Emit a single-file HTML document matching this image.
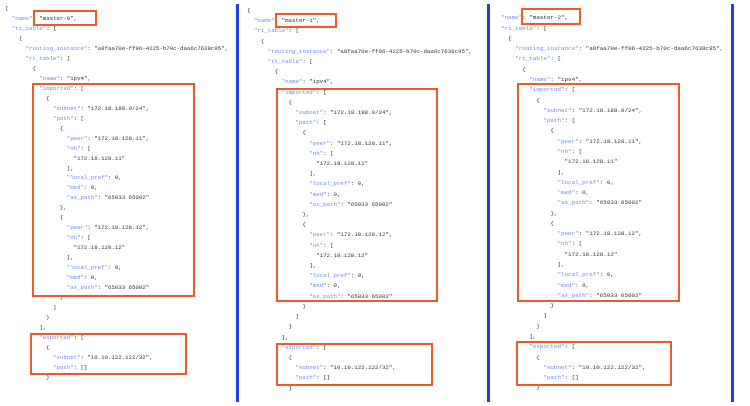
<!DOCTYPE html>
<html><head><meta charset="utf-8">
<style>
html,body{margin:0;padding:0;background:#fff;}
body{width:750px;height:406px;position:relative;overflow:hidden;}
pre{position:absolute;margin:0;font-family:"Liberation Mono",monospace;color:#333;}
.k{color:#6a8cf0;}
.vl{position:absolute;top:4px;height:398px;width:3px;background:#1f3ee6;}
.bx{position:absolute;border:2px solid #f05a28;box-sizing:border-box;}
</style></head><body>
<div class="vl" style="left:236px"></div>
<div class="vl" style="left:487px"></div>
<div class="vl" style="left:731px"></div>

<pre style="left:5px;top:4px;font-size:5.72px;line-height:9.97px">{
  <span class="k">"name"</span>: "master-0",
  <span class="k">"ri_table"</span>: [
    {
      <span class="k">"routing_instance"</span>: "a8faa70e-ff96-4225-b70c-daa6c7638c95",
      <span class="k">"rt_table"</span>: [
        {
          <span class="k">"name"</span>: "ipv4",
          <span class="k">"imported"</span>: [
            {
              <span class="k">"subnet"</span>: "172.18.188.0/24",
              <span class="k">"path"</span>: [
                {
                  <span class="k">"peer"</span>: "172.18.128.11",
                  <span class="k">"nh"</span>: [
                    "172.18.128.11"
                  ],
                  <span class="k">"local_pref"</span>: 0,
                  <span class="k">"med"</span>: 0,
                  <span class="k">"as_path"</span>: "65033 65002"
                },
                {
                  <span class="k">"peer"</span>: "172.18.128.12",
                  <span class="k">"nh"</span>: [
                    "172.18.128.12"
                  ],
                  <span class="k">"local_pref"</span>: 0,
                  <span class="k">"med"</span>: 0,
                  <span class="k">"as_path"</span>: "65033 65002"
                }
              ]
            }
          ],
          <span class="k">"exported"</span>: [
            {
              <span class="k">"subnet"</span>: "10.10.122.122/32",
              <span class="k">"path"</span>: []
            }</pre>

<pre style="left:247px;top:6px;font-size:5.78px;line-height:10.2px">{
  <span class="k">"name"</span>: "master-1",
  <span class="k">"ri_table"</span>: [
    {
      <span class="k">"routing_instance"</span>: "a8faa70e-ff96-4225-b70c-daa6c7638c95",
      <span class="k">"rt_table"</span>: [
        {
          <span class="k">"name"</span>: "ipv4",
          <span class="k">"imported"</span>: [
            {
              <span class="k">"subnet"</span>: "172.18.188.0/24",
              <span class="k">"path"</span>: [
                {
                  <span class="k">"peer"</span>: "172.18.128.11",
                  <span class="k">"nh"</span>: [
                    "172.18.128.11"
                  ],
                  <span class="k">"local_pref"</span>: 0,
                  <span class="k">"med"</span>: 0,
                  <span class="k">"as_path"</span>: "65033 65002"
                },
                {
                  <span class="k">"peer"</span>: "172.18.128.12",
                  <span class="k">"nh"</span>: [
                    "172.18.128.12"
                  ],
                  <span class="k">"local_pref"</span>: 0,
                  <span class="k">"med"</span>: 0,
                  <span class="k">"as_path"</span>: "65033 65002"
                }
              ]
            }
          ],
          <span class="k">"exported"</span>: [
            {
              <span class="k">"subnet"</span>: "10.10.122.122/32",
              <span class="k">"path"</span>: []
            }</pre>

<pre style="left:494px;top:3px;font-size:5.88px;line-height:10.28px"> 
  <span class="k">"name"</span>: "master-2",
  <span class="k">"ri_table"</span>: [
    {
      <span class="k">"routing_instance"</span>: "a8faa70e-ff96-4225-b70c-daa6c7638c95",
      <span class="k">"rt_table"</span>: [
        {
          <span class="k">"name"</span>: "ipv4",
          <span class="k">"imported"</span>: [
            {
              <span class="k">"subnet"</span>: "172.18.188.0/24",
              <span class="k">"path"</span>: [
                {
                  <span class="k">"peer"</span>: "172.18.128.11",
                  <span class="k">"nh"</span>: [
                    "172.18.128.11"
                  ],
                  <span class="k">"local_pref"</span>: 0,
                  <span class="k">"med"</span>: 0,
                  <span class="k">"as_path"</span>: "65033 65002"
                },
                {
                  <span class="k">"peer"</span>: "172.18.128.12",
                  <span class="k">"nh"</span>: [
                    "172.18.128.12"
                  ],
                  <span class="k">"local_pref"</span>: 0,
                  <span class="k">"med"</span>: 0,
                  <span class="k">"as_path"</span>: "65033 65002"
                }
              ]
            }
          ],
          <span class="k">"exported"</span>: [
            {
              <span class="k">"subnet"</span>: "10.10.122.122/32",
              <span class="k">"path"</span>: []
            }</pre>

<div class="bx" style="left:33px;top:10px;width:64px;height:16px"></div>
<div class="bx" style="left:32px;top:83px;width:163px;height:214px"></div>
<div class="bx" style="left:30px;top:333px;width:157px;height:42px"></div>

<div class="bx" style="left:275px;top:13px;width:62px;height:15px"></div>
<div class="bx" style="left:276px;top:88px;width:162px;height:214px"></div>
<div class="bx" style="left:276px;top:343px;width:157px;height:43px"></div>

<div class="bx" style="left:521px;top:8px;width:60px;height:17px"></div>
<div class="bx" style="left:517px;top:83px;width:163px;height:219px"></div>
<div class="bx" style="left:516px;top:341px;width:156px;height:45px"></div>
</body></html>
